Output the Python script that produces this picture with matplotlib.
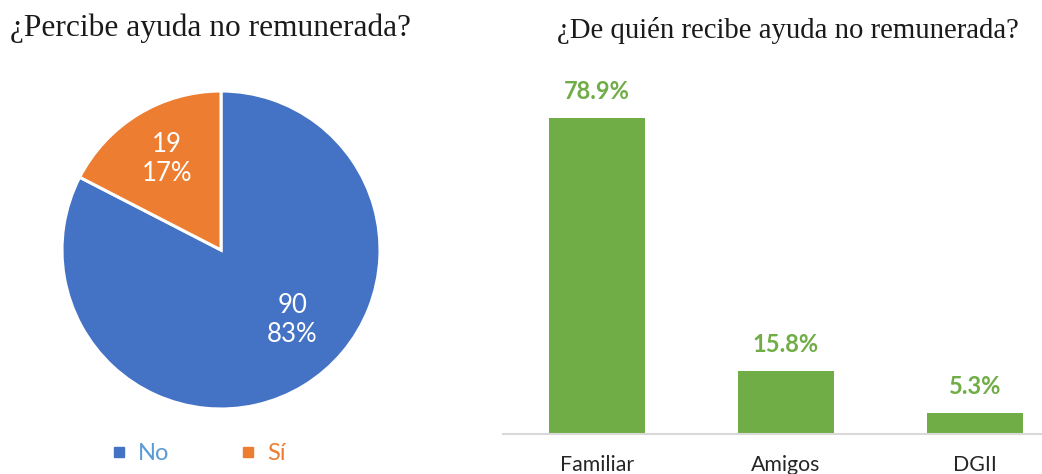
import matplotlib
matplotlib.use("Agg")
import matplotlib.pyplot as plt
from matplotlib.lines import Line2D

# Data
pie_labels = ["No", "Sí"]
pie_values = [90, 19]
pie_colors = ["#4472C4", "#ED7D31"]
legend_text_colors = ["#5B9BD5", "#ED7D31"]

bar_categories = ["Familiar", "Amigos", "DGII"]
bar_values = [78.9, 15.8, 5.3]
bar_color = "#70AD47"

W, H = 1042, 474
fig = plt.figure(figsize=(W / 100, H / 100), dpi=100)
sans = ["Lato", "DejaVu Sans"]
serif = ["Liberation Serif", "DejaVu Serif"]

# ---- Pie ----
pl, pr, pt, pb = 62, 380, 91, 409
axp = fig.add_axes([pl / W, (H - pb) / H, (pr - pl) / W, (pb - pt) / H])
wedges, _ = axp.pie(pie_values, colors=pie_colors, startangle=90, counterclock=False,
                    wedgeprops=dict(edgecolor="white", linewidth=2.2), radius=1.0)
axp.set_xlim(-1, 1)
axp.set_ylim(-1, 1)
axp.set_aspect("equal")
total = sum(pie_values)
label_pos = [(0.45, -0.44), (-0.34, 0.57)]
for v, (x, y) in zip(pie_values, label_pos):
    axp.text(x, y, f"{v}\n{round(100 * v / total)}%", color="white", ha="center", va="center",
             fontsize=18.5, family=sans, linespacing=1.2)

fig.text(10 / W, 1 - 28 / H, "¿Percibe ayuda no remunerada?", family=serif, fontsize=22.6,
         ha="left", va="center", color="#1a1a1a")

# legend
handles = [Line2D([0], [0], marker="s", linestyle="", markersize=7.2, markerfacecolor=c, markeredgecolor=c)
           for c in pie_colors]
leg = fig.legend(handles, pie_labels, loc="center", bbox_to_anchor=(198 / W, 1 - 454 / H), ncol=2,
                 frameon=False, prop=dict(family=sans, size=17), handletextpad=0.45, columnspacing=3.0,
                 handlelength=0.7)
for t, c in zip(leg.get_texts(), legend_text_colors):
    t.set_color(c)

# ---- Bars ----
bl, br, bt, bb = 503, 1042, 74, 434
axb = fig.add_axes([bl / W, (H - bb) / H, (br - bl) / W, (bb - bt) / H])
x = list(range(len(bar_categories)))
bars = axb.bar(x, bar_values, width=0.51, color=bar_color)
axb.set_xlim(-0.497, 2.354)
axb.set_ylim(0, 90)
for s in ["top", "right", "left"]:
    axb.spines[s].set_visible(False)
axb.spines["bottom"].set_color("#D9D9D9")
axb.spines["bottom"].set_linewidth(1.5)
axb.set_yticks([])
axb.set_xticks(x)
axb.set_xticklabels(bar_categories, family=sans, fontsize=15.3, color="#262626")
axb.tick_params(axis="x", length=0, pad=15)
for xi, v in zip(x, bar_values):
    axb.annotate(f"{v:.1f}%", (xi, v), xytext=(0, 11), textcoords="offset points", ha="center",
                 va="bottom", color=bar_color, fontsize=17, fontweight="bold", family=sans)

fig.text(788 / W, 1 - 30 / H, "¿De quién recibe ayuda no remunerada?", family=serif, fontsize=20.7,
         ha="center", va="center", color="#1a1a1a")

fig.savefig("out.png", dpi=100)
